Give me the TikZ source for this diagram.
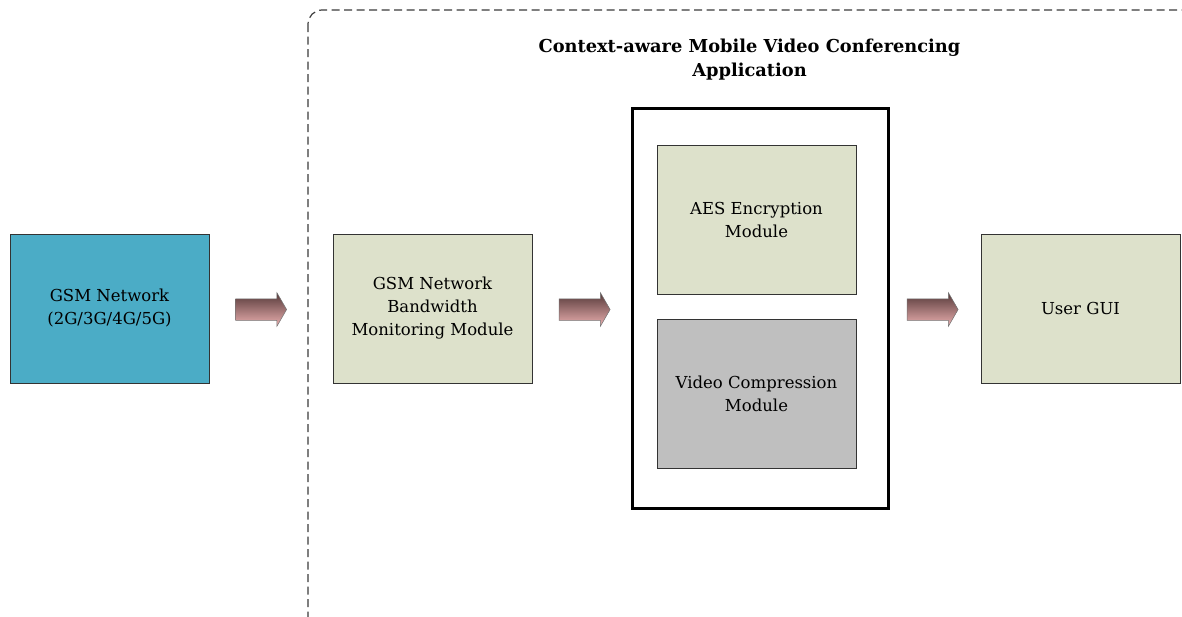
\documentclass[tikz,border=0pt]{standalone}
\usepackage{fontspec}
\setmainfont{DejaVu Serif}
\usetikzlibrary{shapes.arrows,calc}
\definecolor{gsmblue}{HTML}{4BACC6}
\definecolor{olivelight}{HTML}{DDE1CB}
\definecolor{modgray}{HTML}{BFBFBF}
\definecolor{arrowdark}{HTML}{553838}
\definecolor{arrowlight}{HTML}{EBB0B0}
\definecolor{framegray}{HTML}{3A3A3A}
\begin{document}
\begin{tikzpicture}[x=1pt,y=-1pt,
  module/.style={draw=black!80, line width=0.8pt, minimum width=199pt,
    minimum height=149pt, align=center, inner sep=0pt,
    font=\fontsize{16.5}{23}\selectfont},
  blockarrow/.style={single arrow, draw=black!55, line width=0.5pt,
    minimum height=51pt, single arrow head extend=6pt,
    single arrow tip angle=120, inner xsep=0pt, inner ysep=10.5pt,
    top color=arrowdark, bottom color=arrowlight},
  frame/.style={draw=framegray, line width=1.2pt, dash pattern=on 8pt off 4.5pt,
    rounded corners=14pt},
  holder/.style={draw=black, line width=3pt, minimum width=256pt,
    minimum height=400pt, inner sep=0pt, fill=white},
  title/.style={align=center, font=\fontsize{17.8}{24}\selectfont\bfseries}]
\useasboundingbox (0,0) rectangle (1182,616);

% application frame, running past the page edges
\begin{scope}
  \clip (0,0) rectangle (1182,616);
  \draw[frame] (308,10) rectangle (1210,640);
\end{scope}

\node[title] (apptitle) at (749.5,59.5) {Context-aware Mobile Video Conferencing\\Application};

% modules
\node[module, fill=gsmblue] (gsm) at (109.5,308.5) {GSM Network\\(2G/3G/4G/5G)};
\node[module, fill=olivelight] (bw) at (432.5,308.5) {GSM Network\\Bandwidth\\Monitoring Module};
\node[holder] (core) at (760.5,308.5) {};
\node[module, fill=olivelight] (aes) at (756.5,219.5) {AES Encryption\\Module};
\node[module, fill=modgray] (vc) at (756.5,393.5) {Video Compression\\Module};
\node[module, fill=olivelight] (gui) at (1080.5,308.5) {User GUI};

% flow arrows
\node[blockarrow] (a1) at (258,309.5) {};
\node[blockarrow] (a2) at (581.5,309.5) {};
\node[blockarrow] (a3) at (929.5,309.5) {};
\end{tikzpicture}
\end{document}
